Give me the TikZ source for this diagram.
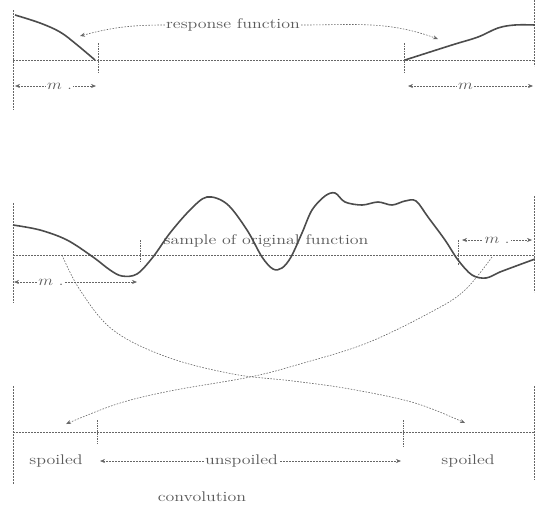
\documentclass[tikz,border=0pt]{standalone}
\usetikzlibrary{arrows.meta}
\begin{document}
\begin{tikzpicture}[x=1pt,y=-1pt,
  axis/.style={draw=black!60, line width=0.6pt, dash pattern=on 1.6pt off 1.4pt},
  tickmark/.style={draw=black!60, line width=0.6pt, dash pattern=on 1.6pt off 1pt},
  fcurve/.style={draw=black!70, line width=1.6pt},
  dimarrow/.style={draw=black!60, line width=0.6pt, dash pattern=on 1.6pt off 1.4pt, {Stealth[length=5pt,width=4pt]}-{Stealth[length=5pt,width=4pt]}},
  ptr/.style={draw=black!60, line width=0.6pt, dash pattern=on 1.6pt off 1.4pt, -{Stealth[length=5pt,width=4pt]}},
  lbl/.style={text=black!65, font=\fontsize{14}{16}\selectfont, inner sep=1pt},
  dimlbl/.style={text=black!65, font=\fontsize{14}{16}\selectfont, fill=white, inner sep=1.5pt}
]
\useasboundingbox (0,0) rectangle (535,509);

% ---------- top: response function ----------
\coordinate (tl1) at (13,10);  \coordinate (tl2) at (13,110);
\coordinate (tb1) at (13,60);  \coordinate (tb2) at (535,60);
\coordinate (tr1) at (534,0);  \coordinate (tr2) at (534,66);
\draw[axis] (tl1) -- (tl2);
\draw[axis] (tb1) -- (tb2);
\draw[axis] (tr1) -- (tr2);
\draw[tickmark] (98,43) -- (98,73);
\draw[tickmark] (404,43) -- (404,73);
\draw[fcurve] plot[smooth, tension=0.6] coordinates {(15,15) (40,23) (60,32) (76,44) (95,60)};
\draw[fcurve] plot[smooth, tension=0.6] coordinates {(405,60) (452,45) (478,37) (498,28) (515,25) (535,25)};
\node[lbl] (resp) at (233,25) {\scalebox{1.28}[1]{response function}};
\coordinate (respL) at (80,36);
\coordinate (respR) at (438,39);
\draw[ptr] (resp.west) to[out=180, in=15] (respL);
\draw[ptr] (resp.east) to[out=0, in=160] (respR);
\coordinate (m1a) at (15,86); \coordinate (m1b) at (96,86);
\draw[dimarrow] (m1a) -- (m1b) node[dimlbl, pos=0.55] {\scalebox{1.2}[1]{$m$ .}};
\coordinate (m2a) at (408,86); \coordinate (m2b) at (533,86);
\draw[dimarrow] (m2a) -- (m2b) node[dimlbl, pos=0.46] {\scalebox{1.2}[1]{$m$}};

% ---------- middle: original function ----------
\draw[axis] (13,203) -- (13,303);
\draw[axis] (13,255) -- (535,255);
\draw[axis] (534,196) -- (534,292);
\draw[tickmark] (140,240) -- (140,262);
\draw[tickmark] (458,240) -- (458,266);
\node[lbl] (samp) at (266,241) {\scalebox{1.28}[1]{sample of original function}};
\draw[fcurve] plot[smooth, tension=0.55] coordinates {
 (13,225) (40,230) (67,240) (93,257) (110,270) (122,276) (137,274) (153,257)
 (170,233) (190,210) (207,197) (227,204) (247,230) (262,257) (273,269) (282,268)
 (291,257) (302,233) (312,210) (325,196) (335,193) (345,202) (362,205) (378,202)
 (392,205) (405,201) (416,201) (428,217) (445,240) (458,260) (472,275) (486,278)
 (500,272) (516,266) (535,259)};
\coordinate (m3a) at (14,282); \coordinate (m3b) at (137,282);
\draw[dimarrow] (m3a) -- (m3b) node[dimlbl, pos=0.3] {\scalebox{1.2}[1]{$m$ .}};
\coordinate (m4a) at (462,240); \coordinate (m4b) at (532,240);
\draw[dimarrow] (m4a) -- (m4b) node[dimlbl, pos=0.5] {\scalebox{1.2}[1]{$m$ .}};

% ---------- crossing convolution curves ----------
\coordinate (cAs) at (62,255);
\coordinate (cAe) at (465,423);
\coordinate (cBs) at (492,257);
\coordinate (cBe) at (66,424);
\draw[ptr] plot[smooth, tension=0.6] coordinates {
 (cAs) (80,290) (113,330) (167,357) (233,374) (293,381) (350,389) (415,403) (cAe)};
\draw[ptr] plot[smooth, tension=0.6] coordinates {
 (cBs) (465,290) (433,311) (367,343) (300,364) (250,377) (170,391) (117,404) (cBe)};

% ---------- bottom: convolution ----------
\draw[axis] (13,386) -- (13,484);
\draw[axis] (13,432) -- (535,432);
\draw[axis] (534,386) -- (534,480);
\draw[tickmark] (97,420) -- (97,444);
\draw[tickmark] (403,420) -- (403,447);
\node[lbl] (spL) at (56,461) {\scalebox{1.28}[1]{spoiled}};
\node[lbl] (spR) at (468,461) {\scalebox{1.28}[1]{spoiled}};
\coordinate (u1) at (100,461); \coordinate (u2) at (401,461);
\draw[dimarrow] (u1) -- (u2) node[lbl, fill=white, pos=0.47] (unsp) {\scalebox{1.28}[1]{unspoiled}};
\node[lbl] (conv) at (202,497) {\scalebox{1.28}[1]{convolution}};
\end{tikzpicture}
\end{document}
